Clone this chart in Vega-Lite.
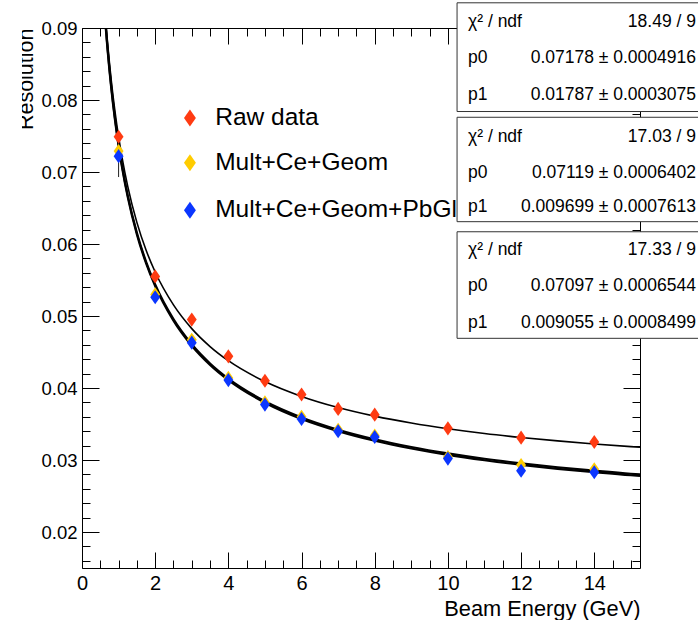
{
  "$schema": "https://vega.github.io/schema/vega-lite/v6.json",
  "width": 558,
  "height": 540,
  "autosize": {"type": "none"},
  "padding": {"left": 82, "top": 28, "right": 58, "bottom": 52},
  "background": "white",
  "config": {
    "view": {"stroke": "black", "strokeWidth": 1},
    "font": "Liberation Sans",
    "axis": {"grid": false, "domain": false, "tickColor": "black", "tickWidth": 1, "labelColor": "black", "labelFont": "Liberation Sans", "titleFont": "Liberation Sans", "titleFontWeight": "normal", "titleColor": "black", "labelFlush": false, "labelOverlap": false}
  },
  "datasets": {
    "points": [
      {"E": 1, "series": "Raw data", "res": 0.0749},
      {"E": 2, "series": "Raw data", "res": 0.0555},
      {"E": 3, "series": "Raw data", "res": 0.0495},
      {"E": 4, "series": "Raw data", "res": 0.0444},
      {"E": 5, "series": "Raw data", "res": 0.0410},
      {"E": 6, "series": "Raw data", "res": 0.0391},
      {"E": 7, "series": "Raw data", "res": 0.0371},
      {"E": 8, "series": "Raw data", "res": 0.0363},
      {"E": 10, "series": "Raw data", "res": 0.0344},
      {"E": 12, "series": "Raw data", "res": 0.0331},
      {"E": 14, "series": "Raw data", "res": 0.0325},
      {"E": 1, "series": "Mult+Ce+Geom", "res": 0.0729},
      {"E": 2, "series": "Mult+Ce+Geom", "res": 0.0530},
      {"E": 3, "series": "Mult+Ce+Geom", "res": 0.0467},
      {"E": 4, "series": "Mult+Ce+Geom", "res": 0.0414},
      {"E": 5, "series": "Mult+Ce+Geom", "res": 0.0380},
      {"E": 6, "series": "Mult+Ce+Geom", "res": 0.0360},
      {"E": 7, "series": "Mult+Ce+Geom", "res": 0.0342},
      {"E": 8, "series": "Mult+Ce+Geom", "res": 0.0334},
      {"E": 10, "series": "Mult+Ce+Geom", "res": 0.0304},
      {"E": 12, "series": "Mult+Ce+Geom", "res": 0.0293},
      {"E": 14, "series": "Mult+Ce+Geom", "res": 0.0287},
      {"E": 1, "series": "Mult+Ce+Geom+PbGl", "res": 0.0722},
      {"E": 2, "series": "Mult+Ce+Geom+PbGl", "res": 0.0526},
      {"E": 3, "series": "Mult+Ce+Geom+PbGl", "res": 0.0463},
      {"E": 4, "series": "Mult+Ce+Geom+PbGl", "res": 0.0411},
      {"E": 5, "series": "Mult+Ce+Geom+PbGl", "res": 0.0377},
      {"E": 6, "series": "Mult+Ce+Geom+PbGl", "res": 0.0357},
      {"E": 7, "series": "Mult+Ce+Geom+PbGl", "res": 0.0340},
      {"E": 8, "series": "Mult+Ce+Geom+PbGl", "res": 0.0332},
      {"E": 10, "series": "Mult+Ce+Geom+PbGl", "res": 0.0302},
      {"E": 12, "series": "Mult+Ce+Geom+PbGl", "res": 0.0285},
      {"E": 14, "series": "Mult+Ce+Geom+PbGl", "res": 0.0283}
    ],
    "fits": [
      {"fit": "raw", "E": 0.5, "res": 0.10263}, {"fit": "raw", "E": 0.6, "res": 0.09430}, {"fit": "raw", "E": 0.7, "res": 0.08786}, {"fit": "raw", "E": 0.8, "res": 0.08271}, {"fit": "raw", "E": 0.9, "res": 0.07847}, {"fit": "raw", "E": 1.0, "res": 0.07490}, {"fit": "raw", "E": 1.1, "res": 0.07185}, {"fit": "raw", "E": 1.25, "res": 0.06801}, {"fit": "raw", "E": 1.5, "res": 0.06300}, {"fit": "raw", "E": 1.75, "res": 0.05916}, {"fit": "raw", "E": 2, "res": 0.05611}, {"fit": "raw", "E": 2.5, "res": 0.05154}, {"fit": "raw", "E": 3, "res": 0.04825}, {"fit": "raw", "E": 3.5, "res": 0.04576}, {"fit": "raw", "E": 4, "res": 0.04379}, {"fit": "raw", "E": 5, "res": 0.04089}, {"fit": "raw", "E": 6, "res": 0.03883}, {"fit": "raw", "E": 7, "res": 0.03729}, {"fit": "raw", "E": 8, "res": 0.03609}, {"fit": "raw", "E": 9, "res": 0.03513}, {"fit": "raw", "E": 10, "res": 0.03434}, {"fit": "raw", "E": 11, "res": 0.03368}, {"fit": "raw", "E": 12, "res": 0.03313}, {"fit": "raw", "E": 13, "res": 0.03265}, {"fit": "raw", "E": 14, "res": 0.03223}, {"fit": "raw", "E": 15, "res": 0.03186}, {"fit": "raw", "E": 15.25, "res": 0.03178},
      {"fit": "geom", "E": 0.5, "res": 0.10226}, {"fit": "geom", "E": 0.6, "res": 0.09375}, {"fit": "geom", "E": 0.7, "res": 0.08717}, {"fit": "geom", "E": 0.8, "res": 0.08189}, {"fit": "geom", "E": 0.9, "res": 0.07754}, {"fit": "geom", "E": 1.0, "res": 0.07386}, {"fit": "geom", "E": 1.1, "res": 0.07072}, {"fit": "geom", "E": 1.25, "res": 0.06675}, {"fit": "geom", "E": 1.5, "res": 0.06156}, {"fit": "geom", "E": 1.75, "res": 0.05756}, {"fit": "geom", "E": 2, "res": 0.05437}, {"fit": "geom", "E": 2.5, "res": 0.04956}, {"fit": "geom", "E": 3, "res": 0.04607}, {"fit": "geom", "E": 3.5, "res": 0.04341}, {"fit": "geom", "E": 4, "res": 0.04130}, {"fit": "geom", "E": 5, "res": 0.03816}, {"fit": "geom", "E": 6, "res": 0.03591}, {"fit": "geom", "E": 7, "res": 0.03421}, {"fit": "geom", "E": 8, "res": 0.03288}, {"fit": "geom", "E": 9, "res": 0.03181}, {"fit": "geom", "E": 10, "res": 0.03092}, {"fit": "geom", "E": 11, "res": 0.03017}, {"fit": "geom", "E": 12, "res": 0.02954}, {"fit": "geom", "E": 13, "res": 0.02899}, {"fit": "geom", "E": 14, "res": 0.02852}, {"fit": "geom", "E": 15, "res": 0.02809}, {"fit": "geom", "E": 15.25, "res": 0.02800},
      {"fit": "pbgl", "E": 0.5, "res": 0.10194}, {"fit": "pbgl", "E": 0.6, "res": 0.09346}, {"fit": "pbgl", "E": 0.7, "res": 0.08689}, {"fit": "pbgl", "E": 0.8, "res": 0.08162}, {"fit": "pbgl", "E": 0.9, "res": 0.07728}, {"fit": "pbgl", "E": 1.0, "res": 0.07361}, {"fit": "pbgl", "E": 1.1, "res": 0.07048}, {"fit": "pbgl", "E": 1.25, "res": 0.06652}, {"fit": "pbgl", "E": 1.5, "res": 0.06133}, {"fit": "pbgl", "E": 1.75, "res": 0.05734}, {"fit": "pbgl", "E": 2, "res": 0.05415}, {"fit": "pbgl", "E": 2.5, "res": 0.04935}, {"fit": "pbgl", "E": 3, "res": 0.04587}, {"fit": "pbgl", "E": 3.5, "res": 0.04321}, {"fit": "pbgl", "E": 4, "res": 0.04110}, {"fit": "pbgl", "E": 5, "res": 0.03796}, {"fit": "pbgl", "E": 6, "res": 0.03570}, {"fit": "pbgl", "E": 7, "res": 0.03401}, {"fit": "pbgl", "E": 8, "res": 0.03267}, {"fit": "pbgl", "E": 9, "res": 0.03160}, {"fit": "pbgl", "E": 10, "res": 0.03071}, {"fit": "pbgl", "E": 11, "res": 0.02997}, {"fit": "pbgl", "E": 12, "res": 0.02933}, {"fit": "pbgl", "E": 13, "res": 0.02878}, {"fit": "pbgl", "E": 14, "res": 0.02831}, {"fit": "pbgl", "E": 15, "res": 0.02788}, {"fit": "pbgl", "E": 15.25, "res": 0.02779}
    ],
    "errs": [
      {"E": 1, "lo": 0.0693, "hi": 0.0752}
    ],
    "legend": [
      {"series": "Raw data", "E": 2.95, "Etext": 3.64, "res": 0.0775},
      {"series": "Mult+Ce+Geom", "E": 2.95, "Etext": 3.64, "res": 0.0713},
      {"series": "Mult+Ce+Geom+PbGl", "E": 2.95, "Etext": 3.64, "res": 0.0647}
    ],
    "boxes": [
      {"box": 1, "x1": 10.25, "x2": 17, "y1": 0.0784, "y2": 0.0935},
      {"box": 2, "x1": 10.25, "x2": 17, "y1": 0.0631, "y2": 0.0776},
      {"box": 3, "x1": 10.25, "x2": 17, "y1": 0.0469, "y2": 0.0617}
    ],
    "mask": [
      {"x1": -2.6, "x2": -1.64, "y1": 0.0725, "y2": 0.0945}
    ],
    "stats": [
      {"box": 1, "label": "χ² / ndf", "value": "18.49 / 9", "Elabel": 10.55, "Evalue": 16.78, "res": 0.0908},
      {"box": 1, "label": "p0", "value": "0.07178 ± 0.0004916", "Elabel": 10.55, "Evalue": 16.78, "res": 0.0858},
      {"box": 1, "label": "p1", "value": "0.01787 ± 0.0003075", "Elabel": 10.55, "Evalue": 16.78, "res": 0.0807},
      {"box": 2, "label": "χ² / ndf", "value": "17.03 / 9", "Elabel": 10.55, "Evalue": 16.78, "res": 0.0749},
      {"box": 2, "label": "p0", "value": "0.07119 ± 0.0006402", "Elabel": 10.55, "Evalue": 16.78, "res": 0.0699},
      {"box": 2, "label": "p1", "value": "0.009699 ± 0.0007613", "Elabel": 10.55, "Evalue": 16.78, "res": 0.0651},
      {"box": 3, "label": "χ² / ndf", "value": "17.33 / 9", "Elabel": 10.55, "Evalue": 16.78, "res": 0.0592},
      {"box": 3, "label": "p0", "value": "0.07097 ± 0.0006544", "Elabel": 10.55, "Evalue": 16.78, "res": 0.0542},
      {"box": 3, "label": "p1", "value": "0.009055 ± 0.0008499", "Elabel": 10.55, "Evalue": 16.78, "res": 0.0490}
    ]
  },
  "resolve": {"axis": {"x": "independent", "y": "independent"}},
  "layer": [
    {
      "data": {"name": "fits"},
      "mark": {"type": "line", "clip": true, "color": "black", "interpolate": "monotone"},
      "encoding": {
        "x": {"field": "E", "type": "quantitative", "scale": {"domain": [0, 15.25], "nice": false, "zero": false},
          "axis": {"orient": "bottom", "values": [0, 2, 4, 6, 8, 10, 12, 14], "format": "d", "tickSize": -16, "labelPadding": 21, "labelFontSize": 20, "labelBaseline": "top",
            "title": "Beam Energy (GeV)", "titleFontSize": 21.8, "titleAnchor": "end", "titleAlign": "right", "titleX": 558, "titleY": 47, "titleBaseline": "alphabetic"}},
        "y": {"field": "res", "type": "quantitative", "scale": {"domain": [0.015, 0.09], "nice": false, "zero": false},
          "axis": {"orient": "left", "values": [0.02, 0.03, 0.04, 0.05, 0.06, 0.07, 0.08, 0.09], "format": ".2f", "tickSize": -17, "labelPadding": 22, "labelFontSize": 18.5, "labelBaseline": "middle",
            "title": "Resolution", "titleFontSize": 21.5, "titleAngle": -90, "titleAnchor": "end", "titleAlign": "right", "titleX": -50, "titleY": 0, "titleBaseline": "alphabetic"}},
        "detail": {"field": "fit", "type": "nominal"},
        "strokeWidth": {"condition": {"test": "datum.fit === 'raw'", "value": 1.6}, "value": 2.2}
      }
    },
    {
      "data": {"name": "errs"},
      "mark": {"type": "rule", "color": "#222222", "strokeWidth": 1},
      "encoding": {
        "x": {"field": "E", "type": "quantitative",
          "axis": {"orient": "bottom", "values": [0.5, 1, 1.5, 2.5, 3, 3.5, 4.5, 5, 5.5, 6.5, 7, 7.5, 8.5, 9, 9.5, 10.5, 11, 11.5, 12.5, 13, 13.5, 14.5, 15], "tickSize": -8, "labels": false, "title": null}},
        "y": {"field": "lo", "type": "quantitative",
          "axis": {"orient": "left", "values": [0.016, 0.018, 0.022, 0.024, 0.026, 0.028, 0.032, 0.034, 0.036, 0.038, 0.042, 0.044, 0.046, 0.048, 0.052, 0.054, 0.056, 0.058, 0.062, 0.064, 0.066, 0.068, 0.072, 0.074, 0.076, 0.078, 0.082, 0.084, 0.086, 0.088], "tickSize": -8, "labels": false, "title": null}},
        "y2": {"field": "hi"}
      }
    },
    {
      "data": {"name": "points"},
      "mark": {"type": "point", "filled": true, "opacity": 1, "shape": "M0,-1L0.7,0L0,1L-0.7,0Z", "size": 200, "clip": true},
      "encoding": {
        "x": {"field": "E", "type": "quantitative",
          "axis": {"orient": "top", "values": [0, 2, 4, 6, 8, 10, 12, 14], "tickSize": -16, "labels": false, "title": null}},
        "y": {"field": "res", "type": "quantitative",
          "axis": {"orient": "right", "values": [0.02, 0.03, 0.04, 0.05, 0.06, 0.07, 0.08, 0.09], "tickSize": -17, "labels": false, "title": null}},
        "color": {"field": "series", "type": "nominal", "scale": {"domain": ["Raw data", "Mult+Ce+Geom", "Mult+Ce+Geom+PbGl"], "range": ["#ff3b12", "#ffcc00", "#0b36ff"]}, "legend": null}
      }
    },
    {
      "data": {"name": "legend"},
      "mark": {"type": "point", "filled": true, "opacity": 1, "shape": "M0,-1L0.7,0L0,1L-0.7,0Z", "size": 290},
      "encoding": {
        "x": {"field": "E", "type": "quantitative", "axis": null},
        "y": {"field": "res", "type": "quantitative", "axis": null},
        "color": {"field": "series", "type": "nominal", "legend": null}
      }
    },
    {
      "data": {"name": "legend"},
      "mark": {"type": "text", "align": "left", "baseline": "middle", "fontSize": 24.5, "font": "Liberation Sans", "color": "black"},
      "encoding": {
        "x": {"field": "Etext", "type": "quantitative", "axis": null},
        "y": {"field": "res", "type": "quantitative", "axis": null},
        "text": {"field": "series"}
      }
    },
    {
      "data": {"name": "boxes"},
      "mark": {"type": "rect", "fill": "white", "stroke": "#333333", "strokeWidth": 1},
      "encoding": {
        "x": {"field": "x1", "type": "quantitative",
          "axis": {"orient": "top", "values": [0.5, 1, 1.5, 2.5, 3, 3.5, 4.5, 5, 5.5, 6.5, 7, 7.5, 8.5, 9, 9.5, 10.5, 11, 11.5, 12.5, 13, 13.5, 14.5, 15], "tickSize": -8, "labels": false, "title": null}},
        "x2": {"field": "x2"},
        "y": {"field": "y1", "type": "quantitative",
          "axis": {"orient": "right", "values": [0.016, 0.018, 0.022, 0.024, 0.026, 0.028, 0.032, 0.034, 0.036, 0.038, 0.042, 0.044, 0.046, 0.048, 0.052, 0.054, 0.056, 0.058, 0.062, 0.064, 0.066, 0.068, 0.072, 0.074, 0.076, 0.078, 0.082, 0.084, 0.086, 0.088], "tickSize": -8, "labels": false, "title": null}},
        "y2": {"field": "y2"}
      }
    },
    {
      "data": {"name": "mask"},
      "mark": {"type": "rect", "fill": "white", "strokeWidth": 0},
      "encoding": {
        "x": {"field": "x1", "type": "quantitative", "axis": null},
        "x2": {"field": "x2"},
        "y": {"field": "y1", "type": "quantitative", "axis": null},
        "y2": {"field": "y2"}
      }
    },
    {
      "data": {"name": "stats"},
      "mark": {"type": "text", "align": "left", "baseline": "middle", "fontSize": 17.5, "font": "Liberation Sans", "color": "black"},
      "encoding": {
        "x": {"field": "Elabel", "type": "quantitative", "axis": null},
        "y": {"field": "res", "type": "quantitative", "axis": null},
        "text": {"field": "label"}
      }
    },
    {
      "data": {"name": "stats"},
      "mark": {"type": "text", "align": "right", "baseline": "middle", "fontSize": 17.5, "font": "Liberation Sans", "color": "black"},
      "encoding": {
        "x": {"field": "Evalue", "type": "quantitative", "axis": null},
        "y": {"field": "res", "type": "quantitative", "axis": null},
        "text": {"field": "value"}
      }
    }
  ]
}
